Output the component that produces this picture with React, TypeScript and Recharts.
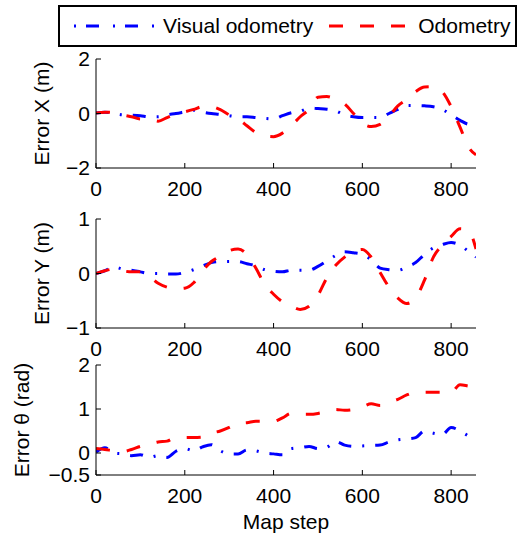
import React from "react";
import { LineChart, Line, XAxis, YAxis, Legend } from "recharts";

const STEPS = [
  0, 20, 40, 60, 80, 100, 120, 140, 160, 180, 200, 220, 240, 260, 280, 300, 320, 340, 360, 380, 400,
  420, 440, 460, 480, 500, 520, 540, 560, 580, 600, 620, 640, 660, 680, 700, 720, 740, 760, 780, 800,
  820, 840, 856,
];

const VISUAL_X = [
  0.02, 0.05, 0.0, -0.05, -0.06, -0.08, -0.12, -0.12, -0.05, 0.0, 0.06, 0.12, 0.05, 0.0, -0.03, -0.08,
  -0.12, -0.12, -0.15, -0.18, -0.2, -0.08, 0.03, 0.08, 0.2, 0.18, 0.16, 0.1, -0.05, -0.12, -0.15, -0.15,
  -0.15, 0.0, 0.15, 0.29, 0.29, 0.28, 0.25, 0.15, -0.05, -0.25, -0.4, -0.42,
];
const ODOM_X = [
  0.02, 0.05, 0.05, -0.05, -0.12, -0.2, -0.2, -0.28, -0.15, -0.02, 0.06, 0.15, 0.25, 0.25, 0.14, -0.05,
  -0.2, -0.45, -0.7, -0.82, -0.85, -0.72, -0.45, -0.12, 0.15, 0.6, 0.62, 0.52, 0.35, 0.0, -0.35, -0.48,
  -0.4, -0.1, 0.28, 0.52, 0.8, 0.97, 0.98, 0.8, 0.25, -0.5, -1.25, -1.52,
];

const VISUAL_Y = [
  0.0, 0.05, 0.12, 0.08, 0.06, 0.03, 0.0, 0.0, -0.01, -0.01, 0.02, 0.07, 0.14, 0.2, 0.22, 0.22, 0.22,
  0.18, 0.14, 0.07, 0.04, 0.03, 0.06, 0.06, 0.06, 0.13, 0.23, 0.33, 0.4, 0.38, 0.35, 0.25, 0.1, 0.07,
  0.06, 0.12, 0.2, 0.35, 0.47, 0.53, 0.57, 0.52, 0.4, 0.3,
];
const ODOM_Y = [
  0.0, 0.05, 0.08, 0.05, 0.03, 0.03, -0.05, -0.18, -0.25, -0.28, -0.27, -0.17, 0.05, 0.22, 0.32, 0.42,
  0.45, 0.35, 0.1, -0.2, -0.38, -0.52, -0.6, -0.66, -0.6, -0.4, -0.08, 0.15, 0.3, 0.4, 0.44, 0.3, 0.02,
  -0.25, -0.45, -0.55, -0.45, -0.12, 0.3, 0.52, 0.68, 0.82, 0.78, 0.45,
];

const VISUAL_T = [
  0.02, 0.12, 0.0, -0.02, -0.06, -0.04, -0.1, -0.06, -0.1, 0.04, 0.1, 0.05, 0.14, 0.19, 0.05, -0.02,
  -0.02, 0.07, 0.05, 0.0, -0.02, -0.04, 0.1, 0.12, 0.15, 0.1, 0.13, 0.26, 0.18, 0.15, 0.16, 0.17, 0.18,
  0.25, 0.3, 0.32, 0.35, 0.5, 0.45, 0.42, 0.58, 0.5, 0.38, 0.3,
];
const ODOM_T = [
  0.1, 0.08, 0.05, 0.03, 0.08, 0.15, 0.2, 0.25, 0.27, 0.35, 0.35, 0.35, 0.36, 0.45, 0.5, 0.58, 0.68,
  0.69, 0.72, 0.72, 0.72, 0.8, 0.9, 0.88, 0.88, 0.9, 0.95, 0.99, 0.97, 0.99, 1.05, 1.12, 1.08, 1.15,
  1.22, 1.32, 1.38, 1.38, 1.38, 1.38, 1.38, 1.55, 1.52, 1.5,
];

const X_TICKS = [0, 200, 400, 600, 800];
const FONT = '"Liberation Sans", Arial, Helvetica, sans-serif';
const BLUE_DASH = "13 11 2 11";
const RED_DASH = "14 17";
const SERIES_ORDER = ["visual", "odom"];

const rows = (a: number[], b: number[]) =>
  STEPS.map((s, i) => ({ step: s, visual: a[i], odom: b[i] }));

const fmt = (v: number) => (v < 0 ? "\u2212" + Math.abs(v) : String(v));

const XTick = (props: any) => {
  const { x, y, payload } = props;
  return (
    <g>
      <line x1={x} x2={x} y1={y} y2={y - 5} stroke="#000" />
      <text x={x} y={y + 28} textAnchor="middle" fontSize={21} fill="#000" fontFamily={FONT}>
        {payload.value}
      </text>
    </g>
  );
};

const YTick = (props: any) => {
  const { x, y, payload } = props;
  return (
    <g>
      <line x1={x} x2={x + 5} y1={y} y2={y} stroke="#000" />
      <text x={x - 6} y={y + 7} textAnchor="end" fontSize={21} fill="#000" fontFamily={FONT}>
        {fmt(payload.value)}
      </text>
    </g>
  );
};

const YLabel = (props: any) => {
  const { viewBox, text, dx } = props;
  const left = viewBox ? viewBox.x + viewBox.width : 96;
  const cy = viewBox ? viewBox.y + viewBox.height / 2 : 0;
  const cx = left - dx;
  return (
    <text
      x={cx}
      y={cy}
      transform={`rotate(-90, ${cx}, ${cy})`}
      textAnchor="middle"
      dominantBaseline="central"
      fontSize={21}
      fill="#000"
      fontFamily={FONT}
    >
      {text}
    </text>
  );
};

const XLabel = (props: any) => {
  const { viewBox } = props;
  const cx = viewBox ? viewBox.x + viewBox.width / 2 : 286;
  const y = viewBox ? viewBox.y : 475;
  return (
    <text x={cx} y={y + 54} textAnchor="middle" fontSize={21} fill="#000" fontFamily={FONT}>
      Map step
    </text>
  );
};

const LEGEND_DASH: Record<string, string> = { visual: "2 10 13 14", odom: RED_DASH };

const LegendBox = (props: any) => {
  const items = [...(props.payload || [])].sort(
    (a: any, b: any) => SERIES_ORDER.indexOf(a.dataKey) - SERIES_ORDER.indexOf(b.dataKey)
  );
  return (
    <div
      style={{
        boxSizing: "border-box",
        width: 459,
        height: 42,
        border: "2px solid #000",
        background: "#fff",
        display: "flex",
        alignItems: "center",
        paddingLeft: 14,
        fontFamily: FONT,
        fontSize: 21,
        color: "#000",
      }}
    >
      {items.map((p: any, i: number) => (
        <div key={p.value} style={{ display: "flex", alignItems: "center", marginRight: i === 0 ? 16 : 0 }}>
          <svg width={80} height={10} style={{ marginRight: 9 }}>
            <line x1={0} x2={80} y1={5} y2={5} stroke={p.color} strokeWidth={3} strokeDasharray={LEGEND_DASH[p.dataKey]} />
          </svg>
          <span>{p.value}</span>
        </div>
      ))}
    </div>
  );
};

type PanelProps = {
  top: number;
  height: number;
  marginTop: number;
  xAxisHeight: number;
  marginBottom: number;
  data: any[];
  domain: [number, number];
  ticks: number[];
  label: string;
  labelDx: number;
  legend?: boolean;
  xLabel?: boolean;
};

function Panel(p: PanelProps) {
  return (
    <div style={{ position: "absolute", left: 0, top: p.top }}>
      <LineChart
        width={517}
        height={p.height}
        data={p.data}
        margin={{ top: p.marginTop, right: 41, bottom: p.marginBottom, left: 46 }}
      >
        <XAxis
          dataKey="step"
          type="number"
          domain={[0, 856]}
          ticks={X_TICKS}
          interval={0}
          height={p.xAxisHeight}
          tickSize={0}
          tickMargin={0}
          tickLine={false}
          axisLine={{ stroke: "#000" }}
          tick={<XTick />}
          label={p.xLabel ? <XLabel /> : undefined}
          allowDataOverflow
        />
        <YAxis
          type="number"
          domain={p.domain}
          ticks={p.ticks}
          interval={0}
          width={50}
          tickSize={0}
          tickMargin={0}
          tickLine={false}
          axisLine={{ stroke: "#000" }}
          tick={<YTick />}
          label={<YLabel text={p.label} dx={p.labelDx} />}
          allowDataOverflow
        />
        {p.legend && (
          <Legend
            layout="vertical"
            align="center"
            verticalAlign="middle"
            content={<LegendBox />}
            wrapperStyle={{ top: 5, left: 58, width: 459, height: 42 }}
          />
        )}
        <Line
          dataKey="visual"
          name="Visual odometry"
          type="monotone"
          stroke="#0000ff"
          strokeWidth={3}
          strokeDasharray={BLUE_DASH}
          dot={false}
          isAnimationActive={false}
        />
        <Line
          dataKey="odom"
          name="Odometry"
          type="monotone"
          stroke="#ff0000"
          strokeWidth={3}
          strokeDasharray={RED_DASH}
          dot={false}
          isAnimationActive={false}
        />
      </LineChart>
    </div>
  );
}

export default function App() {
  return (
    <div style={{ position: "absolute", left: 0, top: 0, width: 517, height: 540, background: "#fff", fontFamily: FONT }}>
      <Panel
        top={0}
        height={200}
        marginTop={59}
        xAxisHeight={30}
        marginBottom={2}
        data={rows(VISUAL_X, ODOM_X)}
        domain={[-2, 2]}
        ticks={[-2, 0, 2]}
        label="Error X (m)"
        labelDx={55}
        legend
      />
      <Panel
        top={200}
        height={160}
        marginTop={19}
        xAxisHeight={30}
        marginBottom={2}
        data={rows(VISUAL_Y, ODOM_Y)}
        domain={[-1, 1]}
        ticks={[-1, 0, 1]}
        label="Error Y (m)"
        labelDx={55}
      />
      <Panel
        top={340}
        height={200}
        marginTop={25}
        xAxisHeight={60}
        marginBottom={5}
        data={rows(VISUAL_T, ODOM_T)}
        domain={[-0.5, 2]}
        ticks={[-0.5, 0, 1, 2]}
        label="Error θ (rad)"
        labelDx={75}
        xLabel
      />
    </div>
  );
}
